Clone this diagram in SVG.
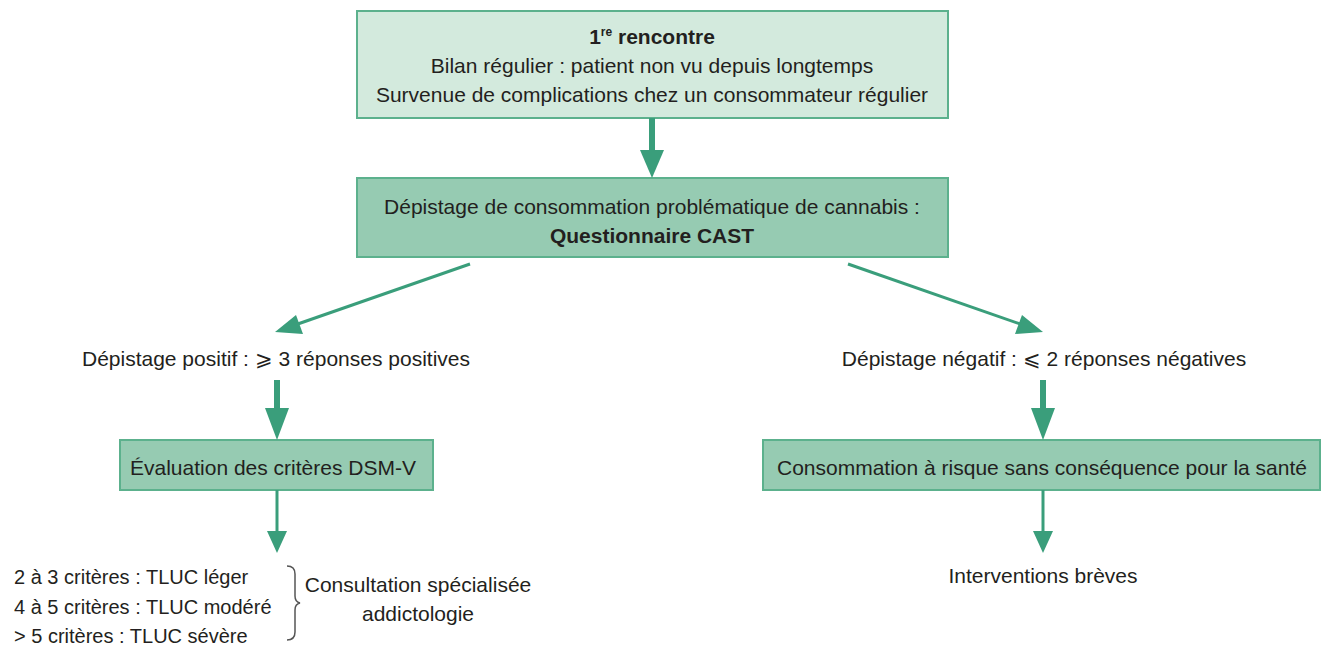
<svg xmlns="http://www.w3.org/2000/svg" width="1326" height="648" viewBox="0 0 1326 648">
<style>
text{font-family:"Liberation Sans",Arial,sans-serif;font-size:21px;fill:#231f20}
.b{font-weight:bold}
.m{text-anchor:middle}
.s{font-size:20px}
.light{fill:#d3eadd;stroke:#5cb18d;stroke-width:2}
.dark{fill:#96cbb2;stroke:#5cb18d;stroke-width:2}
.thick{stroke:#3a9e7b;stroke-width:6;fill:none}
.thin{stroke:#3a9e7b;stroke-width:3;fill:none}
.head{fill:#3a9e7b}
</style>
<rect width="1326" height="648" fill="#ffffff"/>
<g id="n1">
<rect class="light" x="357" y="11" width="591" height="107"/>
<text class="m b" x="652" y="44">1<tspan font-size="12" dy="-8">re</tspan><tspan dy="8"> rencontre</tspan></text>
<text class="m" x="652" y="73">Bilan régulier : patient non vu depuis longtemps</text>
<text class="m" x="652" y="102">Survenue de complications chez un consommateur régulier</text>
</g>
<g id="n2">
<rect class="dark" x="357" y="178" width="591" height="79"/>
<text class="m" x="652" y="214">Dépistage de consommation problématique de cannabis :</text>
<text class="m b" x="652" y="243">Questionnaire CAST</text>
</g>
<g id="n3">
<text class="m" x="276" y="366">Dépistage positif : ⩾ 3 réponses positives</text>
</g>
<g id="n4">
<text class="m" x="1044" y="366">Dépistage négatif : ⩽ 2 réponses négatives</text>
</g>
<g id="n5">
<rect class="dark" x="120" y="440" width="313" height="50"/>
<text x="130" y="475">Évaluation des critères DSM-V</text>
</g>
<g id="n6">
<rect class="dark" x="763" y="440" width="557" height="50"/>
<text class="m" x="1042" y="475">Consommation à risque sans conséquence pour la santé</text>
</g>
<g id="n7">
<text class="s" x="14" y="584">2 à 3 critères : TLUC léger</text>
<text class="s" x="14" y="614">4 à 5 critères : TLUC modéré</text>
<text class="s" x="14" y="643">&gt; 5 critères : TLUC sévère</text>
<path d="M287 566 Q295 566 295 574 L295 596 Q295 602 300 603 Q295 604 295 610 L295 632 Q295 640 287 640" fill="none" stroke="#555" stroke-width="1.5"/>
<text class="m" x="418" y="592">Consultation spécialisée</text>
<text class="m" x="418" y="621">addictologie</text>
</g>
<g id="n8">
<text class="m" x="1043" y="583">Interventions brèves</text>
</g>
<g id="connectors">
<line class="thick" x1="652" y1="118" x2="652" y2="152"/>
<polygon class="head" points="640,150 664,150 652,178"/>
<line class="thin" x1="470" y1="264" x2="292" y2="326"/>
<polygon class="head" points="275,332 296,315 303,334"/>
<line class="thin" x1="848" y1="264" x2="1026" y2="326"/>
<polygon class="head" points="1043,332 1022,315 1015,334"/>
<line class="thick" x1="277" y1="380" x2="277" y2="410"/>
<polygon class="head" points="265,408 289,408 277,440"/>
<line class="thick" x1="1043" y1="380" x2="1043" y2="410"/>
<polygon class="head" points="1031,408 1055,408 1043,440"/>
<line class="thin" x1="277" y1="490" x2="277" y2="534"/>
<polygon class="head" points="267,531 287,531 277,553"/>
<line class="thin" x1="1043" y1="490" x2="1043" y2="534"/>
<polygon class="head" points="1033,531 1053,531 1043,553"/>
</g>
</svg>
